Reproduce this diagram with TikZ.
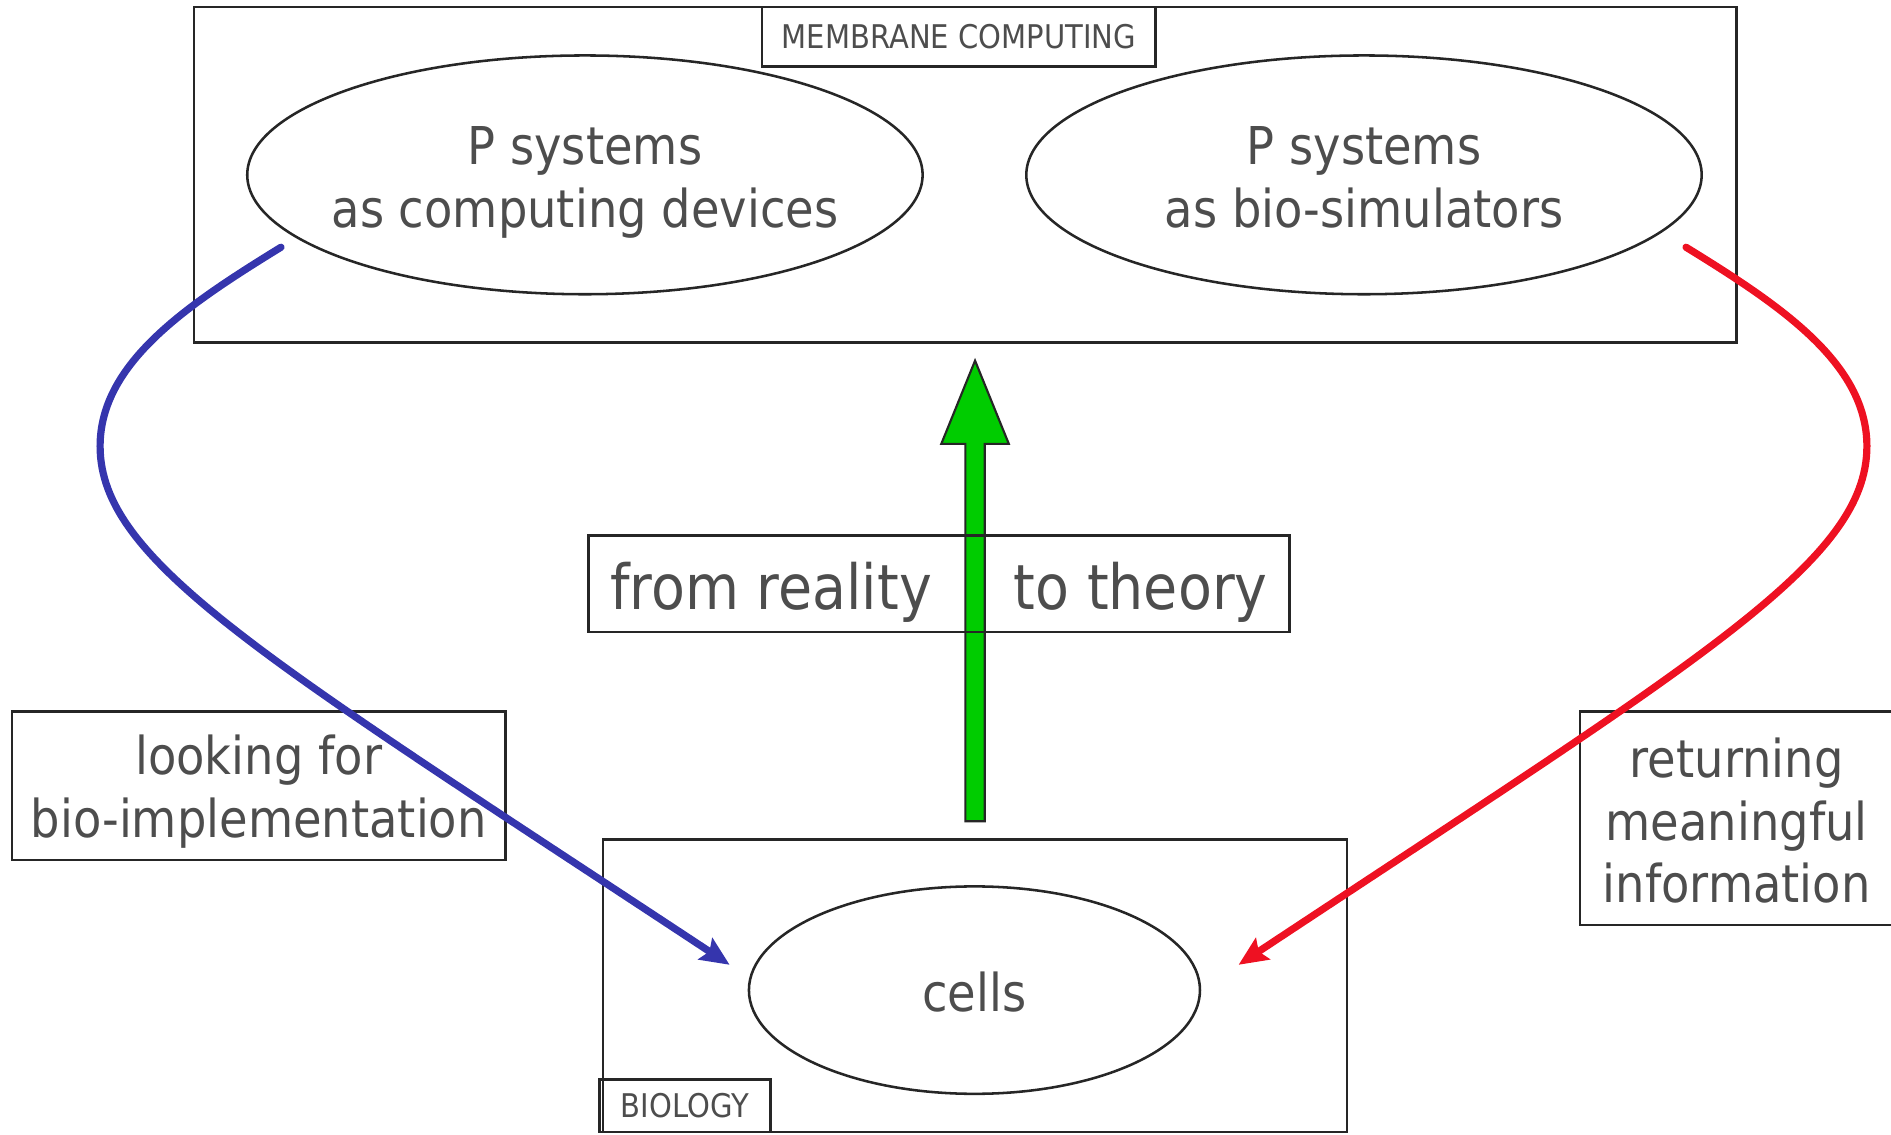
\documentclass[tikz,border=0pt]{standalone}
\usepackage{fontspec}
\setmainfont{DejaVu Sans}[FakeStretch=0.89]
\usepackage{tikz}
\usetikzlibrary{arrows.meta,shapes.geometric}
\usepackage{xcolor}
\definecolor{txtgray}{HTML}{4D4D4D}
\definecolor{pblue}{HTML}{3535AD}
\definecolor{pred}{HTML}{EE1122}
\definecolor{pgreen}{HTML}{00CC00}

\begin{document}
\begin{tikzpicture}[>={Stealth[length=2.4mm,width=2.1mm,inset=0.4mm]},line cap=round,
  box/.style={draw=black!85,line width=0.6pt},
  oval/.style={ellipse,draw=black!85,line width=0.6pt,inner sep=0pt},
  txt/.style={align=center,text=txtgray,font=\fontsize{12.3}{14.8}\selectfont},
  tag/.style={box,text=txtgray,font=\fontsize{7.7}{9}\selectfont,inner sep=0pt},
  flow/.style={line width=1.7pt,->}]
\useasboundingbox (0,0) rectangle (15.68,9.41);
\node[box,minimum width=12.79cm,minimum height=2.78cm] (mc) at (8.005,7.96) {};
\node[tag,minimum width=3.26cm,minimum height=0.49cm] (mctitle) at (7.95,9.105) {MEMBRANE COMPUTING};
\node[oval,minimum width=5.6cm,minimum height=1.98cm,label={[txt,yshift=-0.6mm]center:P systems\\as computing devices}] (pcomp) at (4.85,7.96) {};
\node[oval,minimum width=5.6cm,minimum height=1.98cm,label={[txt,yshift=-0.2mm]center:P systems\\as bio-simulators}] (psim) at (11.31,7.96) {};
\node[box,minimum width=6.17cm,minimum height=2.425cm] (bio) at (8.085,1.2375) {};
\node[tag,minimum width=1.42cm,minimum height=0.435cm] (biotitle) at (5.68,0.2425) {BIOLOGY};
\node[oval,minimum width=3.74cm,minimum height=1.72cm,label={[txt,yshift=-0.2mm]center:cells}] (cells) at (8.08,1.20) {};
\node[box,minimum width=4.09cm,minimum height=1.23cm,label={[txt,yshift=-0.5mm]center:looking for\\bio-implementation}] (lookfor) at (2.145,2.895) {};
\node[box,minimum width=2.6cm,minimum height=1.77cm,label={[txt,yshift=-0.2mm]center:returning\\meaningful\\information}] (returning) at (14.40,2.625) {};
\path (bio.north) ++(0,0.14) coordinate (gbase);
\path (mc.south -| gbase) ++(0,-0.14) coordinate (gtip);
\draw[fill=pgreen,draw=black!85,line width=0.5pt,line join=miter] ([xshift=-0.8mm]gbase) -- ([shift={(-0.8mm,-6.9mm)}]gtip) -- ([shift={(-2.8mm,-6.9mm)}]gtip) -- (gtip) -- ([shift={(2.8mm,-6.9mm)}]gtip) -- ([shift={(0.8mm,-6.9mm)}]gtip) -- ([xshift=0.8mm]gbase) -- cycle;
\node[box,minimum width=5.81cm,minimum height=0.8cm,label={[text=txtgray,font=\fontsize{14.7}{17}\selectfont,yshift=-0.7mm]center:from reality\hspace{0.68cm}to theory}] (reality) at (7.785,4.57) {};
\draw[flow,pblue] ([shift={(-2.52,-0.6)}]pcomp.center) .. controls (1.55,6.88) and (0.83,6.4) .. (0.83,5.71) .. controls (0.83,4.75) and (2.2,3.95) .. ([shift={(-2.03,0.21)}]cells.center);
\draw[flow,pred] ([shift={(2.67,-0.6)}]psim.center) .. controls (14.76,6.88) and (15.48,6.4) .. (15.48,5.71) .. controls (15.48,4.75) and (14.11,3.95) .. ([shift={(2.19,0.21)}]cells.center);
\end{tikzpicture}
\end{document}
